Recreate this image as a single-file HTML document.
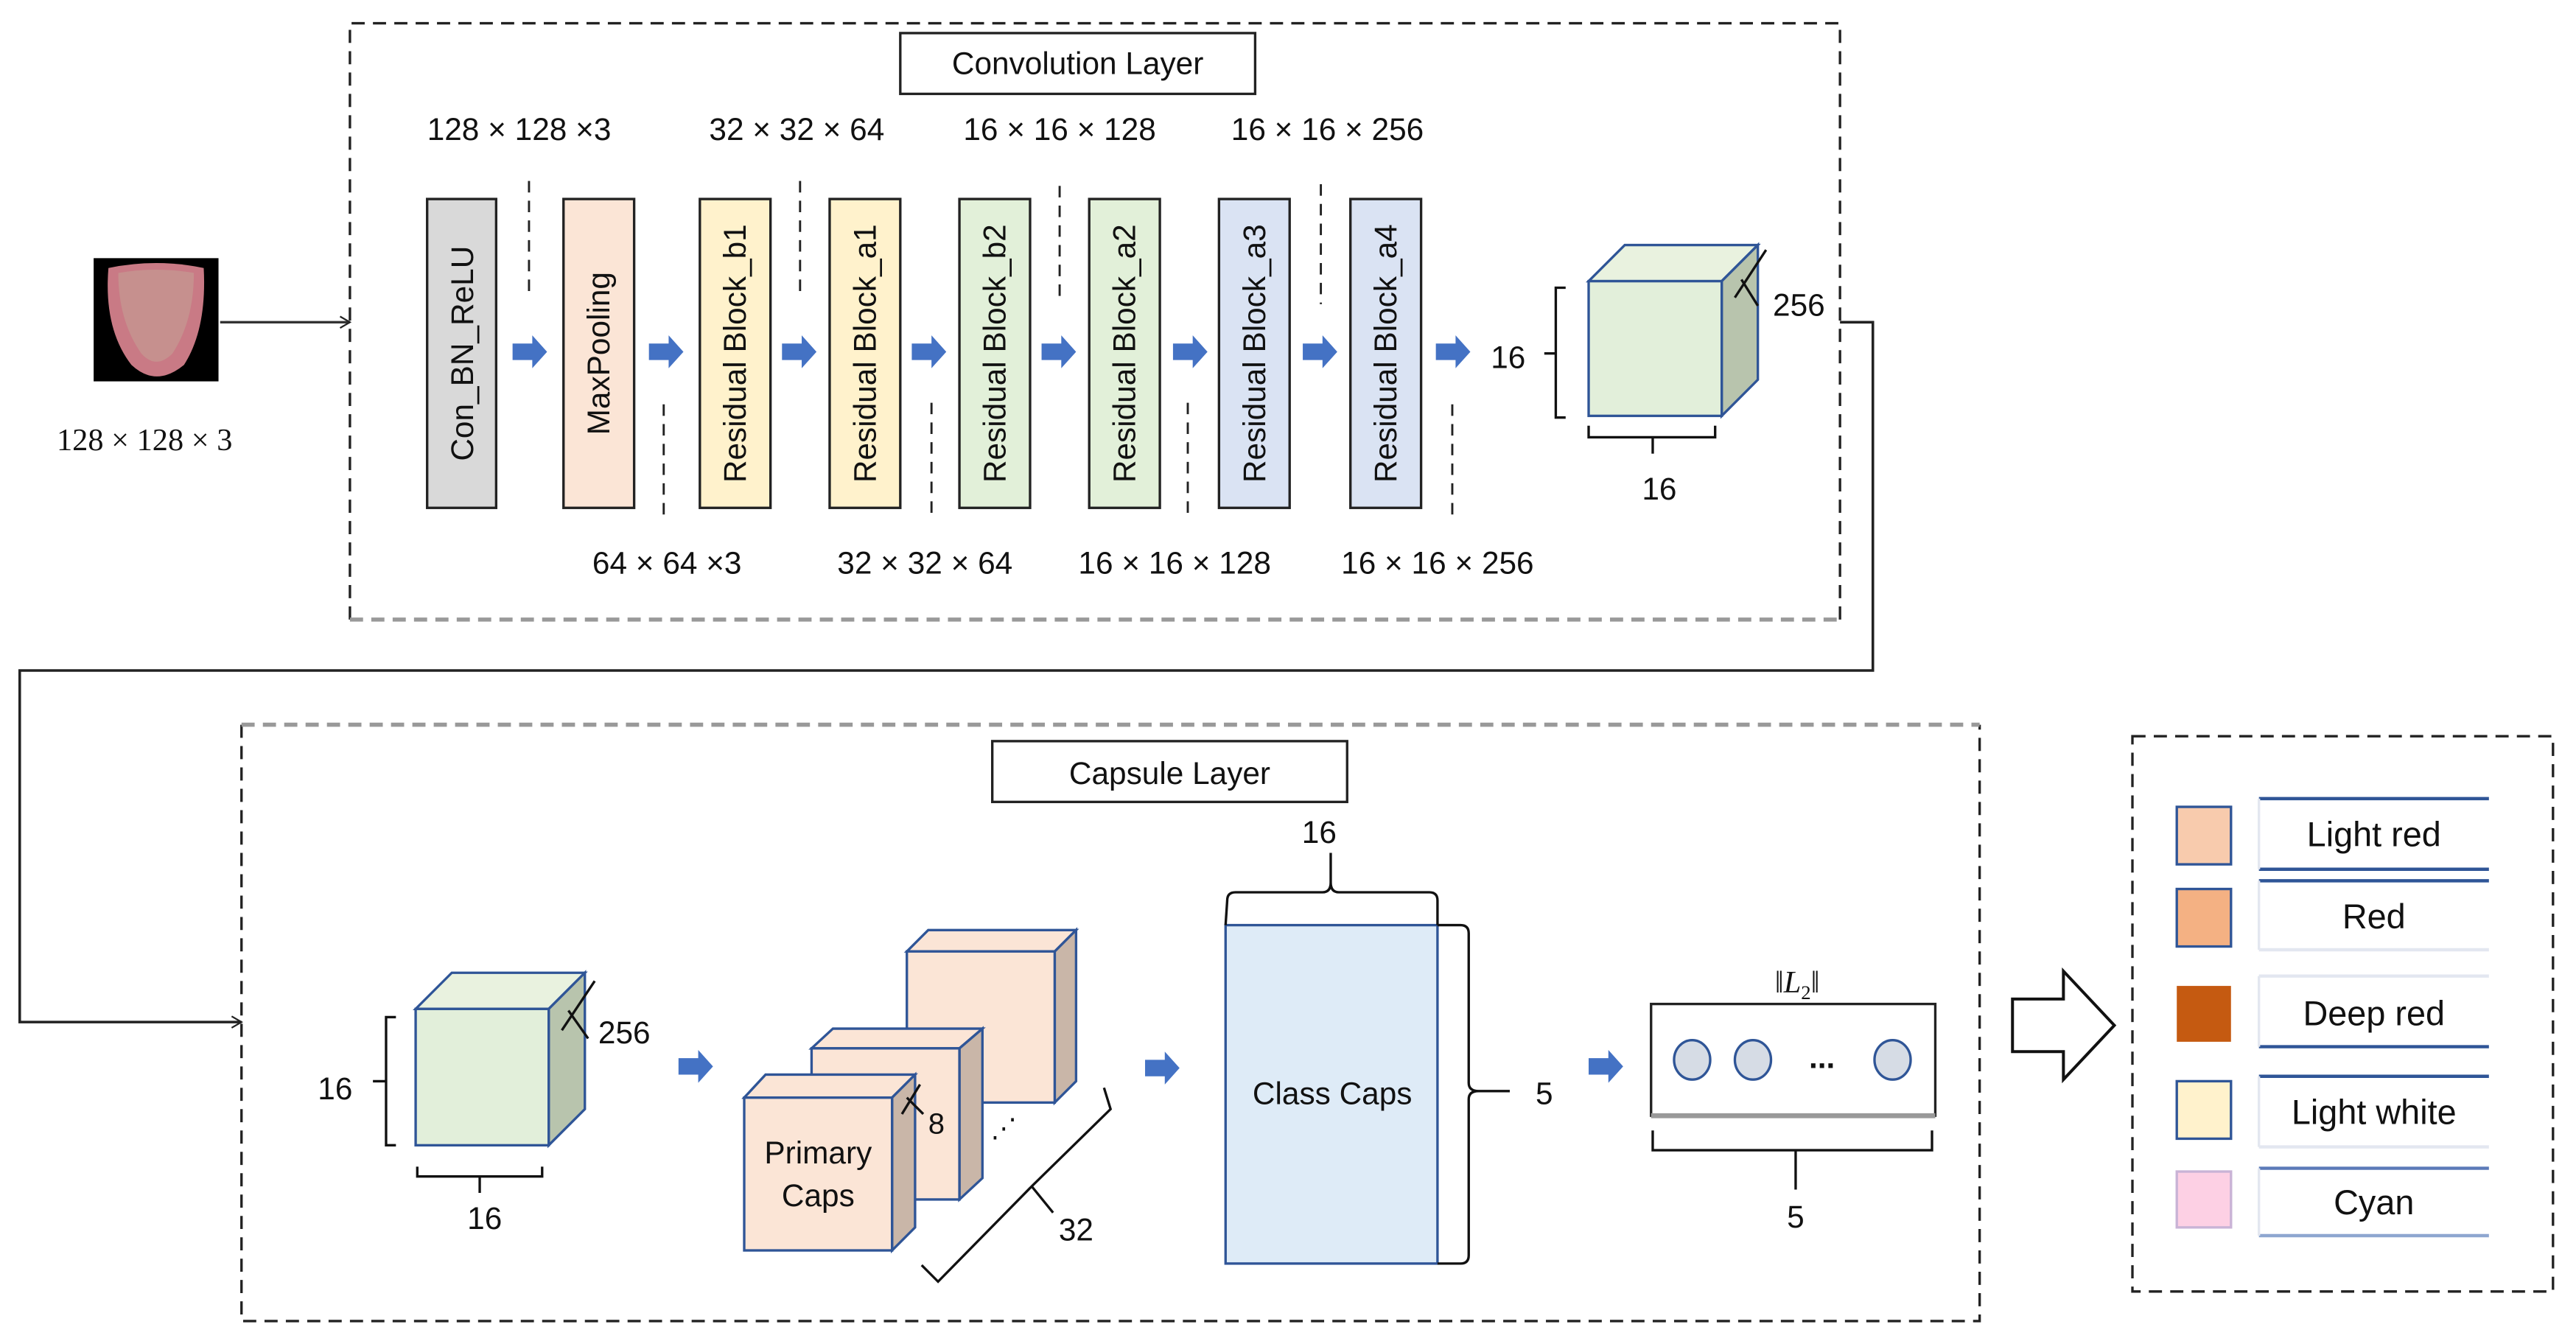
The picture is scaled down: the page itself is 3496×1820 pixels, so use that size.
<!DOCTYPE html>
<html><head><meta charset="utf-8"><style>
html,body{margin:0;padding:0;background:#fff;}
svg{display:block;}
text{font-family:"Liberation Sans Narrow","Liberation Sans",sans-serif;fill:#111;}
.a{font-family:"Liberation Sans",sans-serif;}
.s{font-family:"Liberation Serif",serif;}
</style></head><body>
<svg width="3496" height="1820" viewBox="0 0 1568 816" xmlns="http://www.w3.org/2000/svg">
<defs>
<marker id="ar" markerWidth="8" markerHeight="8" refX="7" refY="4" orient="auto" markerUnits="userSpaceOnUse"><path d="M1,0.5 L7,4 L1,7.5" fill="none" stroke="#222" stroke-width="1"/></marker>
<g id="ba"><path d="M0,-5 L12,-5 L12,-10 L21,0 L12,10 L12,5 L0,5 Z" fill="#4472c4"/></g>
</defs>

<!-- Convolution layer box -->
<path d="M213,377 L213,14 L1120,14 L1120,377" fill="none" stroke="#222" stroke-width="1.5" stroke-dasharray="8,5"/>
<path d="M213,377 L1120,377" fill="none" stroke="#999" stroke-width="2.5" stroke-dasharray="8,5"/>
<rect x="548" y="20" width="216" height="37" fill="#fff" stroke="#222" stroke-width="1.5"/>
<text x="656" y="45" text-anchor="middle" font-size="19" class="a" style="font-family:'Liberation Sans Narrow','Liberation Sans',sans-serif">Convolution Layer</text>

<!-- tongue -->
<rect x="57" y="157" width="76" height="75" fill="#000"/>
<path d="M66,163 Q95,157 124,163 Q126,200 112,222 Q95,236 80,222 Q63,200 66,163Z" fill="#c97a85"/>
<path d="M72,166 Q95,162 118,166 Q118,195 105,215 Q95,225 86,215 Q72,195 72,166Z" fill="#c49a92" opacity="0.7"/>
<text x="88" y="274" text-anchor="middle" font-size="19" class="s">128 × 128 × 3</text>
<line x1="134" y1="196" x2="213" y2="196" stroke="#333" stroke-width="1.5" marker-end="url(#ar)"/>

<!-- blocks -->
<g stroke="#222" stroke-width="1.5">
<rect x="260" y="121" width="42" height="188" fill="#d9d9d9"/>
<rect x="343" y="121" width="43" height="188" fill="#fbe5d6"/>
<rect x="426" y="121" width="43" height="188" fill="#fff2cc"/>
<rect x="505" y="121" width="43" height="188" fill="#fff2cc"/>
<rect x="584" y="121" width="43" height="188" fill="#e2f0d9"/>
<rect x="663" y="121" width="43" height="188" fill="#e2f0d9"/>
<rect x="742" y="121" width="43" height="188" fill="#dae3f3"/>
<rect x="822" y="121" width="43" height="188" fill="#dae3f3"/>
</g>
<g font-size="19" class="a" text-anchor="middle" style="font-family:'Liberation Sans',sans-serif">
<text transform="translate(288,215) rotate(-90)">Con_BN_ReLU</text>
<text transform="translate(371,215) rotate(-90)">MaxPooling</text>
<text transform="translate(454,215) rotate(-90)">Residual Block_b1</text>
<text transform="translate(533,215) rotate(-90)">Residual Block_a1</text>
<text transform="translate(612,215) rotate(-90)">Residual Block_b2</text>
<text transform="translate(691,215) rotate(-90)">Residual Block_a2</text>
<text transform="translate(770,215) rotate(-90)">Residual Block_a3</text>
<text transform="translate(850,215) rotate(-90)">Residual Block_a4</text>
</g>
<use href="#ba" x="312" y="214"/><use href="#ba" x="395" y="214"/><use href="#ba" x="476" y="214"/><use href="#ba" x="555" y="214"/>
<use href="#ba" x="634" y="214"/><use href="#ba" x="714" y="214"/><use href="#ba" x="793" y="214"/><use href="#ba" x="874" y="214"/>

<g font-size="19" class="s" text-anchor="middle">
<text x="316" y="85">128 × 128 ×3</text>
<text x="485" y="85">32 × 32 × 64</text>
<text x="645" y="85">16 × 16 × 128</text>
<text x="808" y="85">16 × 16 × 256</text>
<text x="406" y="349">64 × 64 ×3</text>
<text x="563" y="349">32 × 32 × 64</text>
<text x="715" y="349">16 × 16 × 128</text>
<text x="875" y="349">16 × 16 × 256</text>
</g>
<g stroke="#222" stroke-width="1.3" stroke-dasharray="7,5">
<line x1="322" y1="110" x2="322" y2="180"/><line x1="487" y1="110" x2="487" y2="180"/>
<line x1="645" y1="113" x2="645" y2="185"/><line x1="804" y1="112" x2="804" y2="185"/>
<line x1="404" y1="246" x2="404" y2="314"/><line x1="567" y1="245" x2="567" y2="314"/>
<line x1="723" y1="245" x2="723" y2="314"/><line x1="884" y1="246" x2="884" y2="314"/>
</g>

<!-- cube 1 -->
<g stroke="#2f5597" stroke-width="1.5">
<path d="M967,171 L989,149 L1070,149 L1048,171Z" fill="#e9f2df"/>
<path d="M1048,171 L1070,149 L1070,231 L1048,253Z" fill="#b8c4ad"/>
<rect x="967" y="171" width="81" height="82" fill="#e2efda"/>
</g>
<g stroke="#111" stroke-width="1.5" fill="none">
<path d="M953,175 L947,175 L947,254 L953,254"/><line x1="940" y1="215" x2="947" y2="215"/>
<path d="M967,259 L967,266 L1044,266 L1044,259"/><line x1="1006" y1="266" x2="1006" y2="276"/>
<path d="M1075,152 L1056,181"/><path d="M1060,170 L1070,186"/>
</g>
<text x="918" y="224" text-anchor="middle" font-size="19">16</text>
<text x="1010" y="304" text-anchor="middle" font-size="19">16</text>
<text x="1095" y="192" text-anchor="middle" font-size="19">256</text>

<!-- connector -->
<path d="M1120,196 L1140,196 L1140,408 L12,408 L12,622 L147,622" fill="none" stroke="#222" stroke-width="1.6" marker-end="url(#ar)"/>

<!-- Capsule layer box -->
<path d="M147,441 L147,804 L1205,804 L1205,441" fill="none" stroke="#222" stroke-width="1.5" stroke-dasharray="8,5"/>
<path d="M147,441 L1205,441" fill="none" stroke="#999" stroke-width="2.5" stroke-dasharray="8,5"/>
<rect x="604" y="451" width="216" height="37" fill="#fff" stroke="#222" stroke-width="1.5"/>
<text x="712" y="477" text-anchor="middle" font-size="19">Capsule Layer</text>

<!-- cube 2 -->
<g stroke="#2f5597" stroke-width="1.5">
<path d="M253,614 L275,592 L356,592 L334,614Z" fill="#e9f2df"/>
<path d="M334,614 L356,592 L356,675 L334,697Z" fill="#b8c4ad"/>
<rect x="253" y="614" width="81" height="83" fill="#e2efda"/>
</g>
<g stroke="#111" stroke-width="1.5" fill="none">
<path d="M241,619 L235,619 L235,697 L241,697"/><line x1="227" y1="658" x2="235" y2="658"/>
<path d="M254,710 L254,716 L330,716 L330,710"/><line x1="292" y1="716" x2="292" y2="726"/>
<path d="M362,597 L342,627"/><path d="M346,615 L358,632"/>
</g>
<text x="204" y="669" text-anchor="middle" font-size="19">16</text>
<text x="295" y="748" text-anchor="middle" font-size="19">16</text>
<text x="380" y="635" text-anchor="middle" font-size="19">256</text>
<use href="#ba" x="413" y="649"/>

<!-- primary caps -->
<g stroke="#2f5597" stroke-width="1.5">
<path d="M552,579 L565,566 L655,566 L642,579Z" fill="#fbe5d6"/>
<path d="M642,579 L655,566 L655,658 L642,671Z" fill="#c9b6a8"/>
<rect x="552" y="579" width="90" height="92" fill="#fbe5d6"/>
<path d="M494,638 L507,626 L598,626 L584,638Z" fill="#fbe5d6"/>
<path d="M584,638 L598,626 L598,717 L584,730Z" fill="#c9b6a8"/>
<rect x="494" y="638" width="90" height="92" fill="#fbe5d6"/>
<path d="M453,668 L466,654 L557,654 L543,668Z" fill="#fbe5d6"/>
<path d="M543,668 L557,654 L557,747 L543,761Z" fill="#c9b6a8"/>
<rect x="453" y="668" width="90" height="93" fill="#fbe5d6"/>
</g>
<text x="498" y="708" text-anchor="middle" font-size="19">Primary</text>
<text x="498" y="734" text-anchor="middle" font-size="19">Caps</text>
<path d="M560,660 L549,678 M552,668 L562,678" stroke="#111" stroke-width="1.5" fill="none"/>
<text x="570" y="690" text-anchor="middle" font-size="18">8</text>
<text x="611" y="692" text-anchor="middle" font-size="16">⋰</text>
<path d="M561,770 L571,780 L628,722 L641,738 M628,722 L676,675 L672,662" stroke="#111" stroke-width="1.5" fill="none"/>
<text x="655" y="755" text-anchor="middle" font-size="19">32</text>
<use href="#ba" x="697" y="650"/>

<!-- class caps -->
<rect x="746" y="563" width="129" height="206" fill="#deebf7" stroke="#2f5597" stroke-width="1.5"/>
<text x="811" y="672" text-anchor="middle" font-size="19">Class Caps</text>
<path d="M746,563 L747,548 Q747,543 752,543 L805,543 Q810,543 810,537 L810,519 M810,537 Q810,543 815,543 L870,543 Q875,543 875,548 L875,563" stroke="#111" stroke-width="1.5" fill="none"/>
<text x="803" y="513" text-anchor="middle" font-size="19">16</text>
<path d="M875,563 L889,563 Q894,563 894,568 L894,659 Q894,664 900,664 L919,664 M900,664 Q894,664 894,669 L894,764 Q894,769 889,769 L875,769" stroke="#111" stroke-width="1.5" fill="none"/>
<text x="940" y="672" text-anchor="middle" font-size="19">5</text>
<use href="#ba" x="967" y="649"/>

<!-- L2 box -->
<rect x="1005" y="611" width="173" height="68" fill="#fff" stroke="#222" stroke-width="1.5"/>
<line x1="1005" y1="679" x2="1178" y2="679" stroke="#999" stroke-width="3"/>
<g fill="#d6dce5" stroke="#2f5597" stroke-width="1.5">
<ellipse cx="1030" cy="645" rx="11" ry="12"/><ellipse cx="1067" cy="645" rx="11" ry="12"/><ellipse cx="1152" cy="645" rx="11" ry="12"/>
</g>
<text x="1109" y="650" text-anchor="middle" font-size="19" font-weight="bold">...</text>
<text x="1094" y="604" text-anchor="middle" font-size="19" class="s">‖<tspan font-style="italic">L</tspan><tspan font-size="12" dy="4">2</tspan><tspan dy="-4">‖</tspan></text>
<path d="M1006,688 L1006,700 L1093,700 L1093,724 M1093,700 L1176,700 L1176,688" stroke="#111" stroke-width="1.5" fill="none"/>
<text x="1093" y="747" text-anchor="middle" font-size="19">5</text>

<!-- hollow arrow -->
<path d="M1225,608 L1256,608 L1256,591 L1287,624 L1256,657 L1256,640 L1225,640 Z" fill="#fff" stroke="#111" stroke-width="1.8"/>

<!-- legend -->
<rect x="1298" y="448" width="256" height="338" fill="none" stroke="#222" stroke-width="1.5" stroke-dasharray="8,5"/>
<g stroke="#2f5597" stroke-width="1.5">
<rect x="1325" y="491" width="33" height="35" fill="#f8cbad"/>
<rect x="1325" y="541" width="33" height="35" fill="#f4b183"/>
<rect x="1325" y="600" width="33" height="34" fill="#c55a11" stroke="none"/>
<rect x="1325" y="658" width="33" height="35" fill="#fff2cc"/>
<rect x="1325" y="713" width="33" height="34" fill="#fdd0e4" stroke="#c9b3d6"/>
</g>
<g stroke-width="2">
<line x1="1375" y1="486" x2="1515" y2="486" stroke="#2f5597"/><line x1="1375" y1="529" x2="1515" y2="529" stroke="#2f5597"/>
<line x1="1375" y1="536" x2="1515" y2="536" stroke="#2f5597"/><line x1="1375" y1="578" x2="1515" y2="578" stroke="#e3e7f0"/>
<line x1="1375" y1="594" x2="1515" y2="594" stroke="#e3e7f0"/><line x1="1375" y1="637" x2="1515" y2="637" stroke="#2f5597"/>
<line x1="1375" y1="655" x2="1515" y2="655" stroke="#2f5597"/><line x1="1375" y1="698" x2="1515" y2="698" stroke="#e3e7f0"/>
<line x1="1375" y1="711" x2="1515" y2="711" stroke="#5b7ab8"/><line x1="1375" y1="752" x2="1515" y2="752" stroke="#8ea6d0"/>
</g>
<g stroke="#e3e7f0" stroke-width="1.5">
<line x1="1375" y1="486" x2="1375" y2="529"/><line x1="1375" y1="536" x2="1375" y2="578"/><line x1="1375" y1="594" x2="1375" y2="637"/>
<line x1="1375" y1="655" x2="1375" y2="698"/><line x1="1375" y1="711" x2="1375" y2="752"/>
</g>
<g font-size="21" text-anchor="middle">
<text x="1445" y="515">Light red</text>
<text x="1445" y="565">Red</text>
<text x="1445" y="624">Deep red</text>
<text x="1445" y="684">Light white</text>
<text x="1445" y="739">Cyan</text>
</g>
</svg>
</body></html>
